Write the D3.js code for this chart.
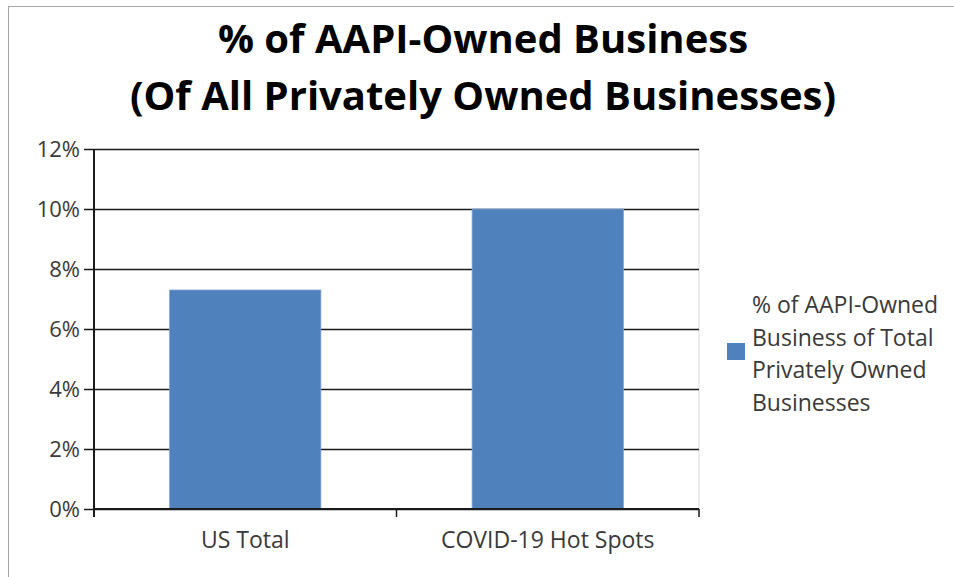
<!DOCTYPE html>
<html>
<head>
<meta charset="utf-8">
<script src="https://cdn.jsdelivr.net/npm/d3@7"></script>
<style>
  body { margin: 0; background: #fff; }
  text { font-family: "Open Sans", sans-serif; }
</style>
</head>
<body>
<div id="viz"></div>
<script>
const categories = ['US Total', 'COVID-19 Hot Spots'];
const shares = [0.073, 0.10];
const yTicks = [0, 0.02, 0.04, 0.06, 0.08, 0.10, 0.12];
const titleLines = ['% of AAPI-Owned Business', '(Of All Privately Owned Businesses)'];
const legendLines = ['% of AAPI-Owned', 'Business of Total', 'Privately Owned', 'Businesses'];

const width = 954;
const height = 577;
const plot = {left: 94, right: 699, top: 149, bottom: 509};
const barColor = '#4f81bd';
const labelColor = '#3a3a3a';

const svg = d3.select('#viz')
  .append('svg')
  .attr('width', width)
  .attr('height', height);

// outer chart border
svg.append('rect')
  .attr('x', 8.5).attr('y', 6.5)
  .attr('width', width + 20).attr('height', height + 20)
  .attr('fill', 'none')
  .attr('stroke', '#a6a6a6');

// title
svg.append('g')
  .selectAll('text')
  .data(titleLines)
  .join('text')
    .attr('x', 483)
    .attr('y', (d, i) => 53 + i * 57)
    .attr('text-anchor', 'middle')
    .attr('font-size', 40)
    .attr('font-weight', 'bold')
    .attr('fill', '#000')
    .text(d => d);

const x = d3.scaleBand()
  .domain(categories)
  .range([plot.left, plot.right])
  .paddingInner(0.5)
  .paddingOuter(0.25);

const y = d3.scaleLinear()
  .domain([0, 0.12])
  .range([plot.bottom, plot.top]);

// right border of plot area
svg.append('line')
  .attr('x1', plot.right).attr('x2', plot.right)
  .attr('y1', plot.top).attr('y2', plot.bottom)
  .attr('stroke', '#d9d9d9');

// gridlines
svg.append('g')
  .attr('class', 'grid')
  .attr('transform', `translate(${plot.left},0)`)
  .call(d3.axisLeft(y).tickValues(yTicks).tickSize(-(plot.right - plot.left)).tickFormat(''))
  .call(g => g.select('.domain').remove())
  .call(g => g.selectAll('line').attr('stroke', '#1a1a1a').attr('stroke-width', 1.5));

// bars
svg.append('g')
  .selectAll('rect')
  .data(categories)
  .join('rect')
    .attr('x', d => x(d))
    .attr('y', (d, i) => y(shares[i]))
    .attr('width', x.bandwidth())
    .attr('height', (d, i) => y(0) - y(shares[i]))
    .attr('fill', barColor)
    .attr('stroke', '#7ea3d1')
    .attr('stroke-width', 0.8);

// y axis
svg.append('g')
  .attr('transform', `translate(${plot.left},0)`)
  .call(d3.axisLeft(y).tickValues(yTicks).tickFormat(d3.format('.0%')).tickSize(10).tickPadding(4))
  .call(g => g.select('.domain').remove())
  .call(g => g.selectAll('line').attr('stroke', '#1a1a1a').attr('stroke-width', 1.5))
  .call(g => g.selectAll('text').attr('font-size', 22).attr('fill', labelColor)
    .attr('font-family', '"Open Sans", sans-serif'));

svg.append('line')
  .attr('x1', plot.left).attr('x2', plot.left)
  .attr('y1', plot.top).attr('y2', plot.bottom + 8)
  .attr('stroke', '#1a1a1a').attr('stroke-width', 2);

// x axis
const boundaries = d3.range(categories.length + 1).map(i => plot.left + i * x.step());
svg.append('line')
  .attr('x1', plot.left).attr('x2', plot.right)
  .attr('y1', plot.bottom).attr('y2', plot.bottom)
  .attr('stroke', '#1a1a1a').attr('stroke-width', 2);
svg.append('g')
  .selectAll('line')
  .data(boundaries)
  .join('line')
    .attr('x1', d => d).attr('x2', d => d)
    .attr('y1', plot.bottom).attr('y2', plot.bottom + 8)
    .attr('stroke', '#1a1a1a').attr('stroke-width', 1.5);

svg.append('g')
  .attr('transform', `translate(0,${plot.bottom})`)
  .call(d3.axisBottom(x).tickSize(0).tickPadding(23))
  .call(g => g.select('.domain').remove())
  .call(g => g.selectAll('text').attr('font-size', 23).attr('fill', labelColor)
    .attr('font-family', '"Open Sans", sans-serif'));

// legend
const legend = svg.append('g');
legend.append('rect')
  .attr('x', 727).attr('y', 343)
  .attr('width', 18).attr('height', 17)
  .attr('fill', barColor);
legend.selectAll('text')
  .data(legendLines)
  .join('text')
    .attr('x', 752)
    .attr('y', (d, i) => 313 + i * 32.5)
    .attr('font-size', 23)
    .attr('fill', labelColor)
    .text(d => d);
</script>
</body>
</html>
